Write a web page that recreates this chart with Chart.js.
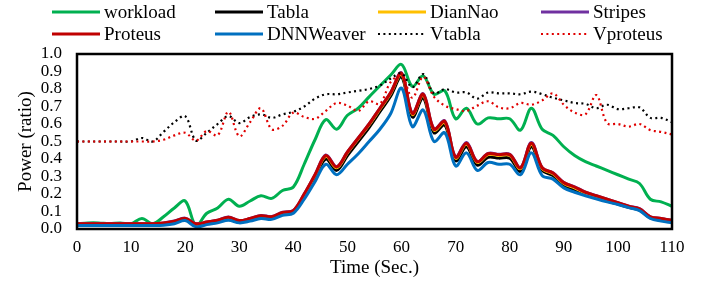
<!DOCTYPE html>
<html>
<head>
<meta charset="utf-8">
<script src="https://cdn.jsdelivr.net/npm/chart.js@4/dist/chart.umd.min.js"></script>
<style>
html,body{margin:0;padding:0;background:#fff;}
#wrap{position:relative;width:715px;height:282px;}
#legend{position:absolute;left:0;top:0;width:715px;height:50px;font-family:"Liberation Serif",serif;font-size:19px;color:#000;}
.item{position:absolute;display:flex;align-items:center;height:22px;white-space:nowrap;}
.item svg{margin-right:4px;}
</style>
</head>
<body>
<div id="wrap">
  <canvas id="c" width="715" height="282"></canvas>
  <div id="legend"></div>
</div>
<script>
// time axis (sec.)
var times = [0,2,4,6,8,10,12,14,16,18,20,22,24,26,28,30,32,34,36,38,40,42,44,46,48,50,52,54,
  56,58,60,62,64,66,68,70,72,74,76,78,80,82,84,86,88,90,92,94,96,98,100,102,104,106,108,110];
var xTicks = [0,10,20,30,40,50,60,70,80,90,100,110];
var yTicks = [0,0.1,0.2,0.3,0.4,0.5,0.6,0.7,0.8,0.9,1.0];

var workload = [0.03,0.035,0.035,0.03,0.035,0.03,0.06,0.03,0.07,0.12,0.16,0.02,0.09,0.12,0.17,0.13,0.16,0.19,0.175,0.22,
  0.24,0.37,0.51,0.625,0.57,0.65,0.69,0.755,0.818,0.88,0.94,0.815,0.875,0.77,0.79,0.63,0.69,0.60,0.635,0.63,
  0.63,0.565,0.69,0.57,0.535,0.47,0.42,0.385,0.36,0.335,0.31,0.285,0.26,0.17,0.155,0.13];
var tabla = [0.025,0.025,0.025,0.025,0.025,0.025,0.025,0.025,0.03,0.04,0.055,0.022,0.033,0.043,0.06,0.042,0.053,0.07,0.064,0.088,
  0.098,0.19,0.295,0.40,0.335,0.42,0.50,0.58,0.67,0.76,0.87,0.64,0.75,0.55,0.595,0.39,0.47,0.365,0.41,0.405,
  0.405,0.33,0.47,0.335,0.305,0.25,0.225,0.20,0.18,0.16,0.142,0.124,0.108,0.064,0.055,0.045];
var diannao = [0.028,0.028,0.028,0.028,0.028,0.028,0.028,0.028,0.033,0.043,0.058,0.028,0.038,0.048,0.064,0.046,0.058,0.074,0.068,0.092,
  0.102,0.195,0.305,0.415,0.35,0.435,0.515,0.595,0.685,0.775,0.885,0.655,0.765,0.565,0.61,0.405,0.485,0.38,0.425,0.42,
  0.42,0.345,0.485,0.345,0.315,0.26,0.235,0.205,0.186,0.166,0.147,0.128,0.112,0.068,0.058,0.048];
var stripes = [0.03,0.03,0.03,0.03,0.03,0.03,0.03,0.03,0.035,0.046,0.062,0.03,0.04,0.05,0.068,0.048,0.06,0.077,0.071,0.096,
  0.106,0.20,0.31,0.423,0.356,0.44,0.52,0.60,0.69,0.78,0.893,0.662,0.773,0.572,0.618,0.412,0.494,0.386,0.432,0.427,
  0.427,0.351,0.494,0.351,0.321,0.266,0.241,0.211,0.191,0.171,0.151,0.131,0.116,0.07,0.06,0.05];
var proteus = [0.03,0.03,0.03,0.03,0.03,0.03,0.03,0.03,0.035,0.045,0.06,0.03,0.04,0.05,0.067,0.048,0.06,0.076,0.07,0.095,
  0.105,0.20,0.31,0.42,0.355,0.44,0.52,0.60,0.69,0.78,0.89,0.66,0.77,0.57,0.615,0.41,0.49,0.385,0.43,0.425,
  0.425,0.35,0.49,0.35,0.32,0.265,0.24,0.21,0.19,0.17,0.15,0.13,0.115,0.07,0.06,0.05];
var dnnweaver = [0.02,0.02,0.02,0.02,0.02,0.02,0.02,0.02,0.022,0.03,0.048,0.012,0.025,0.035,0.05,0.035,0.045,0.06,0.055,0.078,
  0.09,0.17,0.27,0.37,0.31,0.37,0.43,0.50,0.57,0.66,0.805,0.585,0.68,0.50,0.55,0.36,0.435,0.335,0.38,0.37,
  0.37,0.31,0.435,0.305,0.285,0.235,0.21,0.19,0.172,0.155,0.14,0.122,0.105,0.06,0.045,0.035];
var vtabla = [0.5,0.5,0.5,0.5,0.5,0.5,0.52,0.50,0.555,0.61,0.645,0.505,0.55,0.60,0.645,0.605,0.64,0.655,0.635,0.655,
  0.67,0.70,0.745,0.77,0.77,0.78,0.79,0.80,0.82,0.86,0.89,0.81,0.885,0.775,0.80,0.78,0.78,0.745,0.78,0.775,
  0.775,0.77,0.785,0.77,0.75,0.735,0.72,0.715,0.69,0.71,0.685,0.69,0.695,0.635,0.635,0.61];
var vproteus = [0.5,0.5,0.5,0.5,0.5,0.5,0.5,0.5,0.51,0.535,0.55,0.505,0.56,0.535,0.67,0.53,0.61,0.69,0.57,0.59,
  0.665,0.64,0.63,0.675,0.72,0.705,0.675,0.73,0.715,0.84,0.875,0.75,0.87,0.755,0.705,0.685,0.675,0.705,0.73,0.695,
  0.69,0.72,0.71,0.735,0.775,0.71,0.665,0.655,0.765,0.605,0.60,0.585,0.60,0.565,0.555,0.54];

var names = ['workload','Tabla','DianNao','Stripes','Proteus','DNNWeaver','Vtabla','Vproteus'];
var values = [workload, tabla, diannao, stripes, proteus, dnnweaver, vtabla, vproteus];
var colors = ['#00B050','#000000','#FFC000','#7030A0','#C00000','#0070C0','#000000','#E00000'];
var dotted = [false,false,false,false,false,false,true,true];

Chart.defaults.color = '#000';
Chart.defaults.font.family = '"Liberation Serif", serif';

// box around the plot area
var frame = {
  id: 'frame',
  afterDatasetsDraw: function(chart){
    var a = chart.chartArea, ctx = chart.ctx;
    ctx.save();
    ctx.strokeStyle = '#000';
    ctx.lineWidth = 2.5;
    ctx.strokeRect(a.left, a.top, a.right - a.left, a.bottom - a.top);
    ctx.restore();
  }
};

var datasets = names.map(function(n, i){
  return {
    label: n,
    data: times.map(function(t, k){ return {x: t, y: values[i][k]}; }),
    borderColor: colors[i],
    borderWidth: dotted[i] ? 2.2 : 3,
    borderDash: dotted[i] ? [2, 3.4] : [],
    borderCapStyle: 'butt',
    pointRadius: 0,
    tension: 0.35,
    fill: false,
    order: names.length - i  // later series on top, like the original
  };
});

new Chart(document.getElementById('c'), {
  type: 'line',
  data: { datasets: datasets },
  options: {
    responsive: false,
    animation: false,
    layout: { padding: { top: 54, right: 43, left: 0, bottom: 0 } },
    plugins: { legend: { display: false }, tooltip: { enabled: false } },
    scales: {
      x: {
        type: 'linear', min: 0, max: 110,
        afterBuildTicks: function(s){ s.ticks = xTicks.map(function(v){ return {value: v}; }); },
        ticks: { font: { size: 17 }, padding: 8, maxRotation: 0, autoSkip: false },
        grid: { display: false, drawTicks: false },
        border: { display: false },
        title: { display: true, text: 'Time (Sec.)', font: { size: 19 }, padding: { top: 0, bottom: 3 } },
        afterFit: function(s){ s.height = 53; }
      },
      y: {
        min: 0, max: 1,
        afterBuildTicks: function(s){ s.ticks = yTicks.map(function(v){ return {value: v}; }); },
        ticks: { font: { size: 17 }, padding: 15, autoSkip: false, callback: function(v){ return v.toFixed(1); } },
        grid: { display: false, drawTicks: false },
        border: { display: false },
        title: { display: true, text: 'Power (ratio)', font: { size: 19 }, padding: { top: 15, bottom: 0 } },
        afterFit: function(s){ s.width = 77; }
      }
    }
  },
  plugins: [frame]
});

// legend, 4 columns x 2 rows
var leg = document.getElementById('legend');
names.forEach(function(n, i){
  var col = i % 4, row = Math.floor(i / 4);
  var d = document.createElement('div');
  d.className = 'item';
  d.style.left = (52 + col * 163) + 'px';
  d.style.top = (1 + row * 22) + 'px';
  var line = dotted[i]
    ? '<line x1="0" y1="3" x2="48" y2="3" stroke="' + colors[i] + '" stroke-width="2.2" stroke-dasharray="2 3.4"/>'
    : '<line x1="0" y1="3" x2="48" y2="3" stroke="' + colors[i] + '" stroke-width="3"/>';
  d.innerHTML = '<svg width="48" height="6">' + line + '</svg><span>' + n + '</span>';
  leg.appendChild(d);
});
</script>
</body>
</html>
